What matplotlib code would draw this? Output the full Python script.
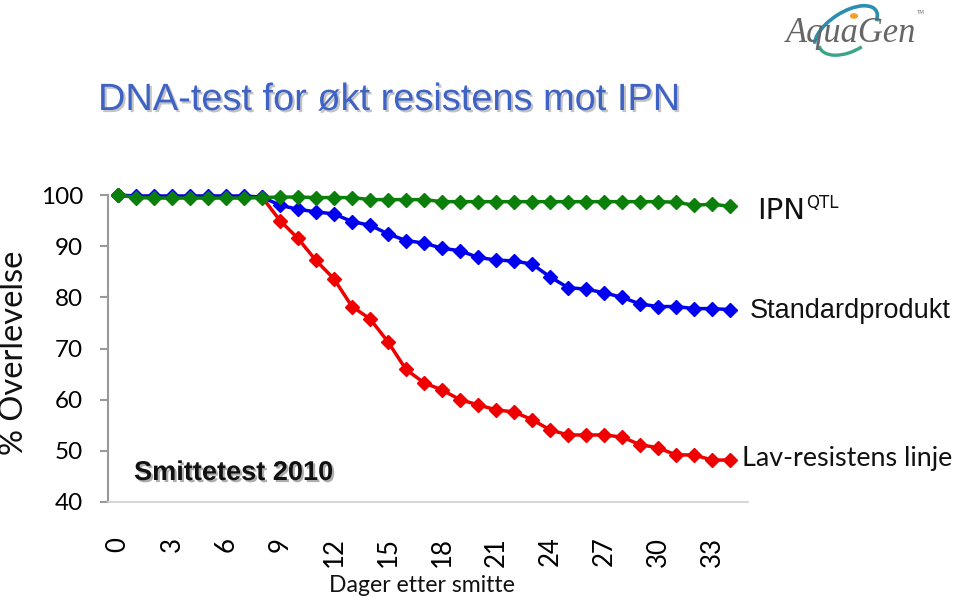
import matplotlib
matplotlib.use("Agg")
import matplotlib.pyplot as plt
import matplotlib.patheffects as pe
from matplotlib.patches import Arc, Circle

days = list(range(35))
ipn_qtl = [100, 99.5, 99.4, 99.4, 99.4, 99.4, 99.4, 99.4, 99.5, 99.6, 99.6, 99.5, 99.5, 99.5,
           99.1, 99.1, 99.1, 99.1, 98.7, 98.7, 98.7, 98.7, 98.7, 98.7, 98.7, 98.7, 98.7, 98.7,
           98.7, 98.7, 98.7, 98.6, 98.0, 98.2, 97.8]
standard = [100, 99.8, 99.8, 99.8, 99.8, 99.8, 99.8, 99.8, 99.6, 98.0, 97.2, 96.7, 96.3, 94.8,
            94.1, 92.4, 91.1, 90.6, 89.6, 89.1, 87.8, 87.3, 87.1, 86.5, 84.0, 81.9, 81.6, 80.9,
            80.0, 78.7, 78.2, 78.2, 77.8, 77.8, 77.6]
lav = [100, 99.7, 99.7, 99.7, 99.7, 99.7, 99.7, 99.7, 99.6, 95.0, 91.5, 87.2, 83.6, 78.2,
       75.8, 71.3, 65.9, 63.3, 61.9, 60.0, 59.0, 58.0, 57.6, 56.1, 54.1, 53.1, 53.1, 53.1,
       52.7, 51.2, 50.6, 49.2, 49.2, 48.2, 48.2]
xticks = list(range(0, 34, 3))
yticks = [40, 50, 60, 70, 80, 90, 100]

W, H = 960, 600
fig = plt.figure(figsize=(9.6, 6), dpi=100)
fig.patch.set_facecolor("white")

def fx(px):
    return px / W

def fy(py):
    return 1 - py / H

ax = fig.add_axes([fx(108), fy(502), fx(748) - fx(108), fy(195) - fy(502)])
ax.set_xlim(-0.556, 35)
ax.set_ylim(40, 100)

mk = dict(marker="D", markersize=7, linewidth=2.5, clip_on=False)
ax.plot(days, lav, color="#ee0000", **mk, zorder=3)
ax.plot(days, standard, color="#0000ee", **mk, zorder=4)
ax.plot(days, ipn_qtl, color="#0a800a", **mk, zorder=5)

for s in ["top", "right"]:
    ax.spines[s].set_visible(False)
ax.spines["left"].set_color("#999999")
ax.spines["left"].set_linewidth(1.5)
ax.spines["bottom"].set_color("#d0d0d0")
ax.spines["bottom"].set_linewidth(1.2)

ax.set_yticks(yticks)
ax.set_yticklabels([str(v) for v in yticks], fontfamily="Lato", fontsize=17.5)
ax.tick_params(axis="y", length=6, width=1.5, color="#999999", pad=12)
ax.set_xticks(xticks)
ax.set_xticklabels([str(v) for v in xticks], fontfamily="Lato", fontsize=18.5, rotation=90)
ax.tick_params(axis="x", length=0, pad=25)

fig.canvas.draw()
renderer = fig.canvas.get_renderer()

def fit_text(x0, x1, y, s, va="baseline", **kw):
    t = fig.text(fx(x0), fy(y), s, ha="left", va=va, **kw)
    bb = t.get_window_extent(renderer)
    fs = t.get_fontsize() * (x1 - x0) / bb.width
    t.set_fontsize(fs)
    return t

def fit_text_v(x, y0, y1, s, **kw):
    t = fig.text(fx(x), fy((y0 + y1) / 2), s, rotation=90, ha="center", va="center", **kw)
    bb = t.get_window_extent(renderer)
    fs = t.get_fontsize() * (y1 - y0) / bb.height
    t.set_fontsize(fs)
    return t

narrow = ["Liberation Sans Narrow", "Liberation Sans", "DejaVu Sans"]

# Title
fit_text(98, 680, 110, "DNA-test for økt resistens mot IPN", fontfamily=narrow,
         color="#3f63c4", fontsize=28,
         path_effects=[pe.withSimplePatchShadow(offset=(1.5, -1.5), shadow_rgbFace="#888888", alpha=0.5)])

# Smittetest box text
fit_text(134, 333, 480, "Smittetest 2010", fontfamily="Liberation Sans", fontweight="bold",
         color="#111111", fontsize=18,
         path_effects=[pe.withSimplePatchShadow(offset=(1.5, -1.5), shadow_rgbFace="#777777", alpha=0.6)])

# Series labels
t_ipn = fig.text(fx(757), fy(219), "IPN", ha="left", va="baseline", fontfamily="DejaVu Sans",
                 color="#111111", fontsize=21)
bb = t_ipn.get_window_extent(renderer)
fig.text((bb.x1 + 1) / W, fy(208), "QTL", ha="left", va="baseline", fontfamily="DejaVu Sans",
         color="#111111", fontsize=12)
fit_text(750, 950, 318, "Standardprodukt", fontfamily="Liberation Sans", color="#111111", fontsize=18)
fit_text(742, 952, 466, "Lav-resistens linje", fontfamily="Lato", color="#111111", fontsize=18)

# Axis labels
fit_text(329, 515, 592, "Dager etter smitte", fontfamily="Lato", color="#111111", fontsize=17)
fit_text_v(14, 250, 455, "% Overlevelse", fontfamily="Lato", color="#111111", fontsize=20)

# Logo
fit_text(786, 917, 42, "AquaGen", fontfamily="Liberation Serif", fontstyle="italic",
         color="#666666", fontsize=24)
fig.text(fx(916), fy(14), "TM", fontfamily="DejaVu Sans", fontsize=4, color="#777777")
arc = Arc((fx(846), fy(30)), fx(44), fy(0) - fy(56), angle=-35, theta1=60, theta2=250,
          transform=fig.transFigure, color="#2a8fb0", linewidth=2.6)
fig.add_artist(arc)
arc2 = Arc((fx(849), fy(33)), fx(48), fy(0) - fy(50), angle=-35, theta1=250, theta2=335,
           transform=fig.transFigure, color="#3aa58a", linewidth=2.4)
fig.add_artist(arc2)
dot = Circle((fx(854), fy(16)), 0.0035, transform=fig.transFigure, color="#f0a030")
fig.add_artist(dot)

fig.savefig("out.png", dpi=100)
